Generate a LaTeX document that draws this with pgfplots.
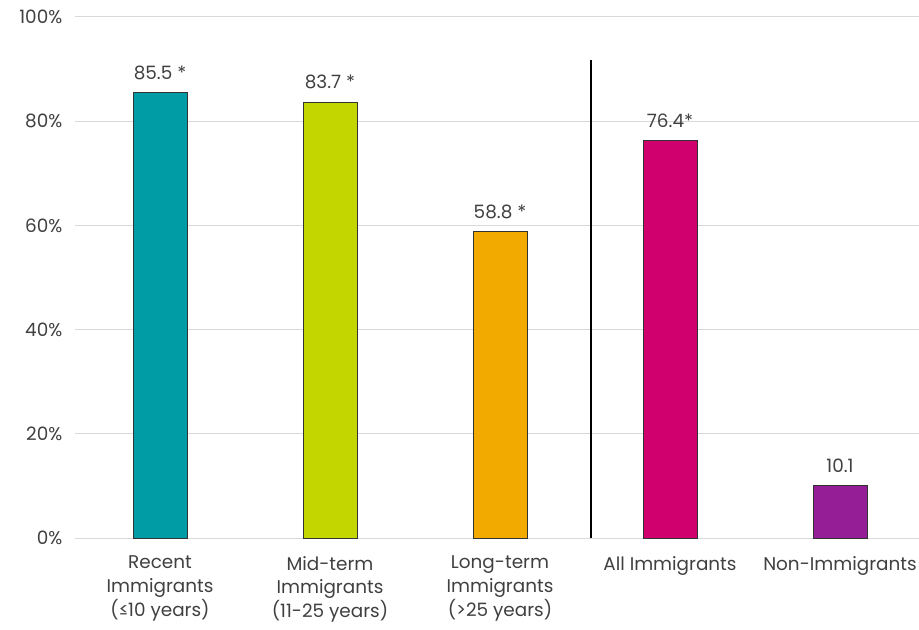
\documentclass[border=0pt]{standalone}
\usepackage{pgfplots}
\pgfplotsset{compat=1.18}
\usepackage{fontspec}
\setmainfont{Poppins}
\definecolor{txt}{HTML}{404040}
\definecolor{grd}{HTML}{D9D9D9}
\definecolor{cA}{HTML}{009CA6}
\definecolor{cB}{HTML}{C4D600}
\definecolor{cC}{HTML}{F2A900}
\definecolor{cD}{HTML}{D0006F}
\definecolor{cE}{HTML}{951D96}
\pgfplotsset{mybar/.style={ybar, bar width=40.5pt, fill=#1, draw=black!80, line width=0.5pt,
  nodes near coords, point meta=explicit symbolic,
  nodes near coords style={text=txt, font=\fontsize{13.8}{16}\selectfont, anchor=south, yshift=6pt}}}
\begin{document}
\begin{tikzpicture}[x=1pt,y=1pt]
\begin{axis}[
  at={(0,0)}, anchor=south west,
  scale only axis,
  width=633pt, height=390.75pt,
  xmin=-0.5, xmax=4.465,
  ymin=0, ymax=100,
  axis line style={draw=none},
  ytick={0,20,...,100},
  ymajorgrids, grid style={grd, line width=0.75pt},
  xtick={0,1,2,3,4},
  xticklabels={{Recent\\Immigrants\\(≤10 years)},{Mid-term\\Immigrants\\(11-25 years)},{Long-term\\Immigrants\\(>25 years)},{All Immigrants},{Non-Immigrants}},
  xticklabel style={align=center, text=txt, font=\fontsize{13.8}{17.8}\selectfont, anchor=north, yshift=-10pt},
  yticklabel style={text=txt, font=\fontsize{13.8}{16}\selectfont, xshift=-6pt},
  /pgf/number format/assume math mode=true,
  yticklabel={\pgfmathprintnumber{\tick}\%},
  major tick length=0pt,
  tick style={draw=none},
  clip=false,
]
\addplot[mybar=cA] coordinates {(0,85.5) [85.5 *]};
\addplot[mybar=cB] coordinates {(1,83.7) [83.7 *]};
\addplot[mybar=cC] coordinates {(2,58.8) [58.8 *]};
\addplot[mybar=cD] coordinates {(3,76.4) [76.4*]};
\addplot[mybar=cE] coordinates {(4,10.1) [10.1]};
\addplot[black, line width=2pt] coordinates {(2.535,0) (2.535,91.7)};
\end{axis}
\pgfresetboundingbox
\path[use as bounding box] (-56.25pt,-68.25pt) rectangle (633pt,403.5pt);
\end{tikzpicture}
\end{document}
